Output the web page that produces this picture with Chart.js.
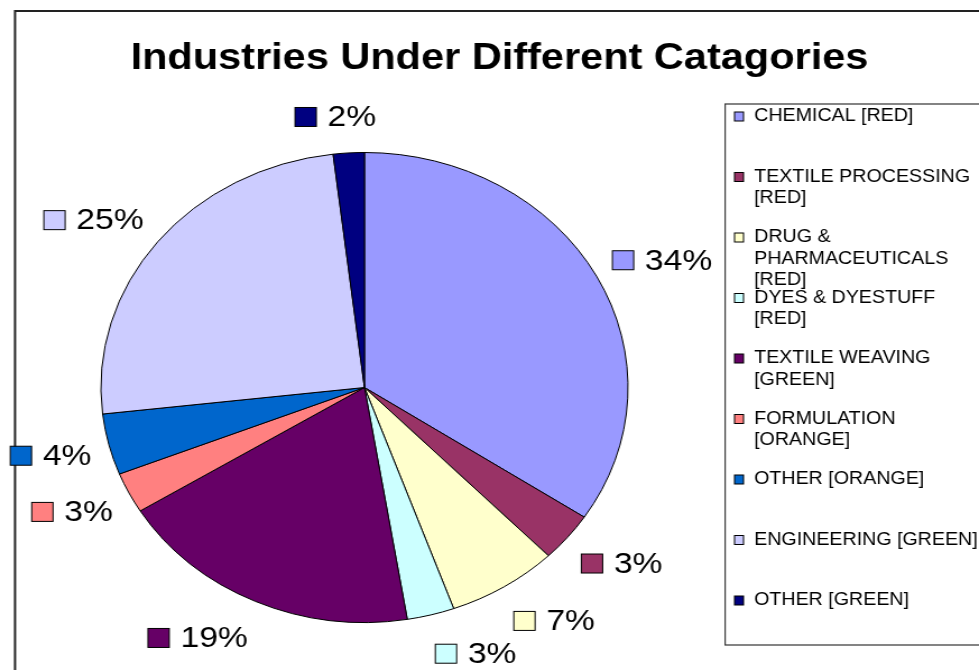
<!DOCTYPE html>
<html>
<head>
<meta charset="utf-8">
<script src="https://cdn.jsdelivr.net/npm/chart.js@4.4.0/dist/chart.umd.min.js"></script>
<style>
  html, body { margin: 0; padding: 0; background: #fff; overflow: hidden; }
  #wrap { position: absolute; left: 0; top: 0; width: 873px; height: 670px;
          transform: scaleX(1.12142); transform-origin: 0 0; }
</style>
</head>
<body>
<div id="wrap"><canvas id="pie" width="873" height="670"></canvas></div>
<script>
// chart data
const chartTitle = "Industries Under Different Catagories";
const categories = [
  ["CHEMICAL [RED]"],
  ["TEXTILE PROCESSING", "[RED]"],
  ["DRUG &", "PHARMACEUTICALS", "[RED]"],
  ["DYES & DYESTUFF", "[RED]"],
  ["TEXTILE WEAVING", "[GREEN]"],
  ["FORMULATION", "[ORANGE]"],
  ["OTHER [ORANGE]"],
  ["ENGINEERING [GREEN]"],
  ["OTHER [GREEN]"]
];
const shares = [34.3, 3.4, 6.8, 2.9, 18.8, 2.8, 4.2, 24.9, 1.9];
const colours = ["#9999FF", "#993366", "#FFFFCC", "#CCFFFF", "#660066",
                 "#FF8080", "#0066CC", "#CCCCFF", "#000080"];

const FONT = '"Liberation Sans", Arial, sans-serif';

// frame, title and legend box drawn around the pie
const decorPlugin = {
  id: "decor",
  beforeDraw(chart) {
    const ctx = chart.ctx;
    ctx.save();
    ctx.fillStyle = "#fff";
    ctx.fillRect(0, 0, chart.width, chart.height);
    ctx.strokeStyle = "#222";
    ctx.lineWidth = 2;
    ctx.strokeRect(13.4, 11, chart.width + 20, chart.height + 20);

    ctx.fillStyle = "#000";
    ctx.font = "bold 37px " + FONT;
    ctx.textAlign = "center";
    ctx.textBaseline = "alphabetic";
    ctx.fillText(chartTitle, 445.4, 69);

    // legend
    ctx.strokeStyle = "#333";
    ctx.lineWidth = 1.2;
    ctx.strokeRect(646.6, 104, chart.width, 541);
    ctx.font = "17.5px " + FONT;
    ctx.textAlign = "left";
    ctx.textBaseline = "middle";
    categories.forEach((lines, i) => {
      const y0 = 116.5 + 60.5 * i;
      ctx.fillStyle = colours[i];
      ctx.fillRect(655, y0 - 4.5, 8, 9);
      ctx.strokeStyle = "#000";
      ctx.lineWidth = 1;
      ctx.strokeRect(655, y0 - 4.5, 8, 9);
      ctx.fillStyle = "#000";
      lines.forEach((t, j) => ctx.fillText(t, 672.5, y0 + j * 21.3));
    });
    ctx.restore();
  }
};

// percentage labels placed outside each slice
const labelPlugin = {
  id: "sliceLabels",
  afterDatasetsDraw(chart) {
    const ctx = chart.ctx;
    const meta = chart.getDatasetMeta(0);
    const total = shares.reduce((a, b) => a + b, 0);
    ctx.save();
    ctx.font = "30px " + FONT;
    ctx.textBaseline = "middle";
    ctx.textAlign = "left";
    const clamp = v => Math.max(-1, Math.min(1, v));
    meta.data.forEach((arc, i) => {
      const mid = (arc.startAngle + arc.endAngle) / 2;
      const ux = Math.cos(mid), uy = Math.sin(mid);
      const px = arc.x + arc.outerRadius * ux;
      const py = arc.y + arc.outerRadius * uy;
      const ax = px + ux * 16, ay = py + uy * 28 + 2;
      const txt = Math.round(shares[i] / total * 100) + "%";
      const tw = ctx.measureText(txt).width;
      const w = 19 + 10 + tw, h = 20;
      const cx = ax + (w / 2) * clamp(5 * ux);
      const cy = ay + (h / 2) * uy;
      const left = cx - w / 2;
      ctx.fillStyle = colours[i];
      ctx.fillRect(left, cy - 9.5, 19, 19);
      ctx.strokeStyle = "#000";
      ctx.lineWidth = 1;
      ctx.strokeRect(left, cy - 9.5, 19, 19);
      ctx.fillStyle = "#000";
      ctx.fillText(txt, left + 29, cy + 1);
    });
    ctx.restore();
  }
};

new Chart(document.getElementById("pie"), {
  type: "pie",
  data: {
    labels: categories,
    datasets: [{
      data: shares,
      backgroundColor: colours,
      borderColor: "#000",
      borderWidth: 1
    }]
  },
  options: {
    responsive: false,
    animation: false,
    radius: 235,
    layout: { padding: { left: 0, right: 223, top: 105, bottom: 0 } },
    plugins: {
      legend: { display: false },
      title: { display: false },
      tooltip: { enabled: false }
    }
  },
  plugins: [decorPlugin, labelPlugin]
});
</script>
</body>
</html>
